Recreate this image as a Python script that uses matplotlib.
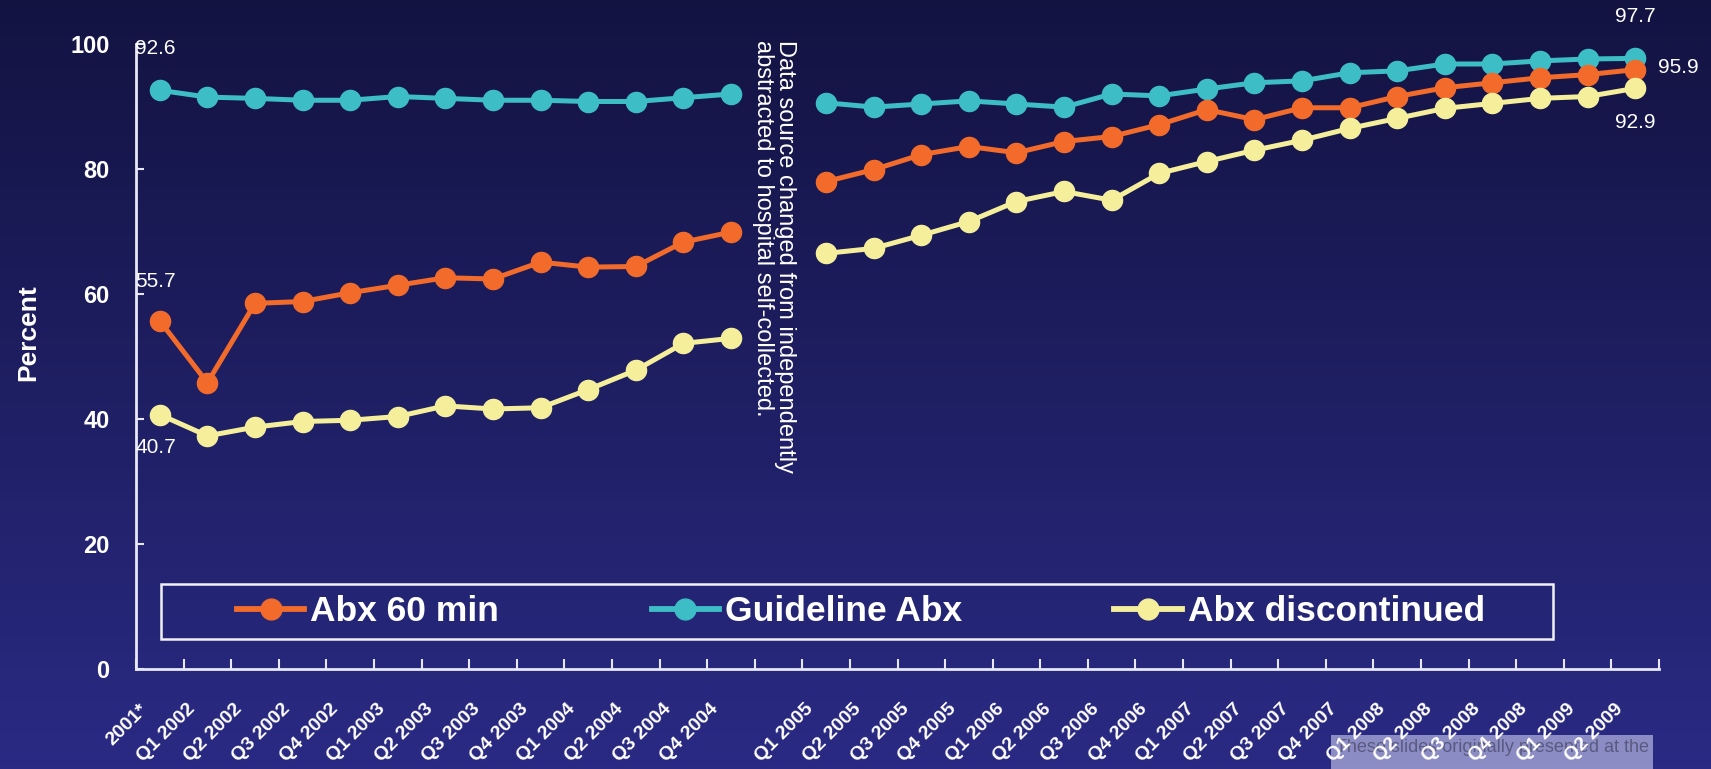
import numpy as np
import matplotlib.pyplot as plt
from matplotlib.patches import Rectangle
from matplotlib.lines import Line2D
from matplotlib.transforms import ScaledTranslation

SANS = ['Liberation Sans', 'DejaVu Sans']

# quarters before and after the change of data source
period1 = ['2001*', 'Q1 2002', 'Q2 2002', 'Q3 2002', 'Q4 2002', 'Q1 2003', 'Q2 2003',
           'Q3 2003', 'Q4 2003', 'Q1 2004', 'Q2 2004', 'Q3 2004', 'Q4 2004']
period2 = ['Q1 2005', 'Q2 2005', 'Q3 2005', 'Q4 2005', 'Q1 2006', 'Q2 2006', 'Q3 2006',
           'Q4 2006', 'Q1 2007', 'Q2 2007', 'Q3 2007', 'Q4 2007', 'Q1 2008', 'Q2 2008',
           'Q3 2008', 'Q4 2008', 'Q1 2009', 'Q2 2009']

abx60_1 = [55.7, 45.8, 58.5, 58.8, 60.2, 61.4, 62.6, 62.4, 65.1, 64.3, 64.4, 68.3, 69.9]
guide_1 = [92.6, 91.5, 91.3, 91.0, 91.0, 91.6, 91.3, 91.0, 91.0, 90.8, 90.8, 91.4, 92.0]
disc_1 = [40.7, 37.3, 38.7, 39.6, 39.8, 40.4, 42.1, 41.6, 41.8, 44.7, 47.8, 52.1, 52.9]

abx60_2 = [78.0, 79.9, 82.3, 83.6, 82.6, 84.4, 85.2, 87.1, 89.5, 87.9, 89.8, 89.8,
           91.6, 93.0, 93.8, 94.6, 95.1, 95.9]
guide_2 = [90.6, 89.9, 90.4, 90.9, 90.4, 89.9, 92.0, 91.7, 92.8, 93.8, 94.1, 95.4,
           95.7, 96.8, 96.8, 97.3, 97.6, 97.7]
disc_2 = [66.5, 67.3, 69.4, 71.6, 74.8, 76.4, 75.0, 79.3, 81.2, 83.0, 84.6, 86.5,
          88.1, 89.7, 90.5, 91.3, 91.6, 92.9]

names = ['Abx 60 min', 'Guideline Abx', 'Abx discontinued']
colors = ['#F26B2A', '#3DBEC6', '#F5EF9C']

labels = period1 + [''] + period2
x1 = np.arange(len(period1))
x2 = np.arange(len(period2)) + len(period1) + 1

fig = plt.figure(figsize=(17.11, 7.69), dpi=100)

# navy gradient background
bg = fig.add_axes([0, 0, 1, 1], zorder=-2)
top = np.array([19, 19, 66]) / 255
bot = np.array([42, 42, 132]) / 255
t = np.linspace(0, 1, 256)[:, None]
grad = top + (bot - top) * t
bg.imshow(grad[:, None, :], aspect='auto', extent=[0, 1, 0, 1])
bg.axis('off')

# faded banner in the lower right corner
fig.patches.append(Rectangle((1331 / 1711, 0), 322 / 1711, 34 / 769, transform=fig.transFigure,
                             facecolor='#bcbce6', alpha=0.68, edgecolor='none', zorder=-1))
fig.text(1336 / 1711, 21 / 769, 'These slides originally presented at the', color='#5a5a80',
         fontsize=13, family=SANS, va='center', ha='left', zorder=-1)

ax = fig.add_axes([136 / 1711, 100 / 769, 1523 / 1711, 625 / 769])
ax.patch.set_visible(False)

series = [(guide_1, guide_2, 1), (abx60_1, abx60_2, 0), (disc_1, disc_2, 2)]
for s1, s2, k in series:
    for xs, ys in ((x1, s1), (x2, s2)):
        ax.plot(xs, ys, color=colors[k], lw=3.6, marker='o', ms=14.5, clip_on=False)

ax.set_xlim(-0.5, len(labels) - 0.5)
ax.set_ylim(0, 100)
ax.set_yticks([0, 20, 40, 60, 80, 100])
ax.set_xticks(np.arange(len(labels) + 1) - 0.5)
ax.set_xticklabels([])
ax.set_xticks(np.arange(len(labels)), labels, minor=True)

for side in ['top', 'right']:
    ax.spines[side].set_visible(False)
for side in ['left', 'bottom']:
    ax.spines[side].set_color('#e8e8f4')
    ax.spines[side].set_linewidth(2)

ax.tick_params(axis='y', direction='in', length=6, width=1.5, color='#e8e8f4',
               labelcolor='white', labelsize=17, pad=19)
ax.tick_params(axis='x', which='major', direction='in', length=7, width=1.5, color='#e8e8f4')
ax.tick_params(axis='x', which='minor', length=0, labelcolor='white', labelsize=14, pad=27)
for lab in ax.get_yticklabels():
    lab.set_family(SANS)
    lab.set_weight('bold')
shift = ScaledTranslation(-0.15, 0, fig.dpi_scale_trans)
for lab in ax.get_xticklabels(minor=True):
    lab.set_rotation(45)
    lab.set_ha('right')
    lab.set_va('center')
    lab.set_rotation_mode('anchor')
    lab.set_family(SANS)
    lab.set_weight('bold')
    lab.set_transform(lab.get_transform() + shift)

ax.set_ylabel('Percent', color='white', fontsize=19, weight='bold', family=SANS)
ax.yaxis.set_label_coords(-0.063, 0.538)

# end-point values
lbl = dict(color='white', fontsize=15, family=SANS, va='center', clip_on=False)
ax.text(-0.52, 99.2, f'{guide_1[0]}', ha='left', **lbl)
ax.text(-0.52, 62.0, f'{abx60_1[0]}', ha='left', **lbl)
ax.text(-0.52, 35.4, f'{disc_1[0]}', ha='left', **lbl)
ax.text(x2[-1], 104.4, f'{guide_2[-1]}', ha='center', **lbl)
ax.text(x2[-1] + 0.48, 96.2, f'{abx60_2[-1]}', ha='left', **lbl)
ax.text(x2[-1], 87.4, f'{disc_2[-1]}', ha='center', **lbl)

ax.text(12.9, 100.6, 'Data source changed from independently\nabstracted to hospital self-collected.',
        rotation=270, ha='center', va='top', color='white', fontsize=17, family=SANS,
        linespacing=0.98, multialignment='left')

handles = [Line2D([], [], color=c, lw=4.2, marker='o', ms=15) for c in colors]
ax.legend(handles, names, ncol=3, loc='center', bbox_to_anchor=(0.476, 0.092),
          frameon=False, prop=dict(family=SANS, weight='bold', size=25.5), labelcolor='white',
          handlelength=1.9, handletextpad=0.17, columnspacing=4.3)
ax.add_patch(Rectangle((0.0164, 0.048), 0.914, 0.088, transform=ax.transAxes, fill=False,
                       edgecolor='#f0f0f8', lw=1.8, clip_on=False))

fig.savefig('out.png', dpi=100)
